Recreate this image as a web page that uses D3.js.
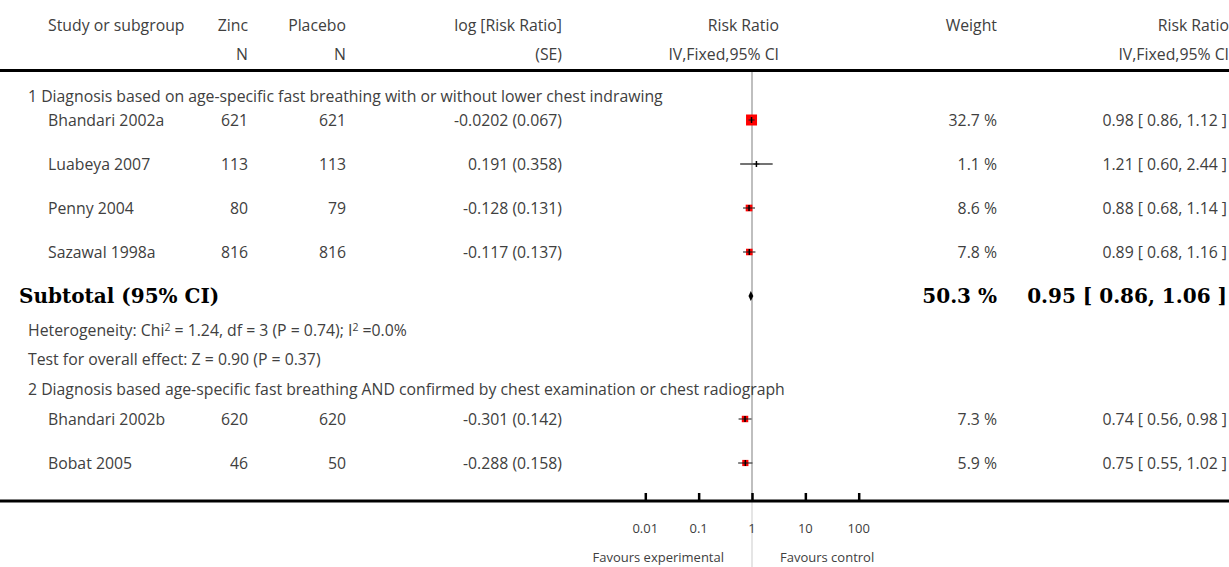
<!DOCTYPE html>
<html>
<head>
<meta charset="utf-8">
<script src="https://cdn.jsdelivr.net/npm/d3@7"></script>
<style>
  body { margin: 0; background: #fff; }
  svg text { font-family: "Open Sans", Lato, sans-serif; fill: #404040; }
  svg text.bold { font-family: "DejaVu Serif", "Liberation Serif", serif; font-weight: bold; fill: #000; }
</style>
</head>
<body>
<svg id="canvas" width="1229" height="567"></svg>
<script>
// data
let studies   = ['Bhandari 2002a', 'Luabeya 2007', 'Penny 2004', 'Sazawal 1998a', 'Bhandari 2002b', 'Bobat 2005']
let zincN     = [621, 113, 80, 816, 620, 46]
let placeboN  = [621, 113, 79, 816, 620, 50]
let logRR     = ['-0.0202 (0.067)', '0.191 (0.358)', '-0.128 (0.131)', '-0.117 (0.137)', '-0.301 (0.142)', '-0.288 (0.158)']
let weights   = [32.7, 1.1, 8.6, 7.8, 7.3, 5.9]
let rr        = [0.98, 1.21, 0.88, 0.89, 0.74, 0.75]
let lower     = [0.86, 0.60, 0.68, 0.68, 0.56, 0.55]
let upper     = [1.12, 2.44, 1.14, 1.16, 0.98, 1.02]

let subtotal  = {rr: 0.95, lo: 0.86, hi: 1.06, weight: 50.3}
let groupNames = [
  '1 Diagnosis based on age-specific fast breathing with or without lower chest indrawing',
  '2 Diagnosis based age-specific fast breathing AND confirmed by chest examination or chest radiograph'
]
let tickValues = [0.01, 0.1, 1, 10, 100]
let tickLabels = ['0.01', '0.1', '1', '10', '100']

let canvas = d3.select('#canvas')

let x = d3.scaleLog().domain([0.01, 100]).range([645.3, 858.7])
let boxSize = d3.scaleLinear().domain([5.9, 32.7]).range([6.2, 11])

let fmt = (v) => v.toFixed(2)
let ciText = (a, b, c) => fmt(a) + ' [ ' + fmt(b) + ', ' + fmt(c) + ' ]'
let FS = 15.8

// row positions (centre of the marks)
let studyY = [120, 164, 208, 252, 419, 463]

// vertical line of no effect
canvas.append('line')
      .attr('x1', x(1)).attr('x2', x(1))
      .attr('y1', 70).attr('y2', 501)
      .attr('stroke', '#aaa').attr('stroke-width', 1.5)
canvas.append('line')
      .attr('x1', x(1)).attr('x2', x(1))
      .attr('y1', 501).attr('y2', 567)
      .attr('stroke', '#ddd').attr('stroke-width', 1.5)

// header
let header = [
  {t: 'Study or subgroup', x: 48, a: 'start', y: 31},
  {t: 'Zinc', x: 248, a: 'end', y: 31},
  {t: 'N', x: 248, a: 'end', y: 60},
  {t: 'Placebo', x: 346, a: 'end', y: 31},
  {t: 'N', x: 346, a: 'end', y: 60},
  {t: 'log [Risk Ratio]', x: 562, a: 'end', y: 31},
  {t: '(SE)', x: 562, a: 'end', y: 60},
  {t: 'Risk Ratio', x: 779, a: 'end', y: 31},
  {t: 'IV,Fixed,95% CI', x: 779, a: 'end', y: 60},
  {t: 'Weight', x: 997, a: 'end', y: 31},
  {t: 'Risk Ratio', x: 1229, a: 'end', y: 31},
  {t: 'IV,Fixed,95% CI', x: 1229, a: 'end', y: 60}
]
canvas.selectAll('text.head')
      .data(header)
      .enter()
      .append('text')
      .attr('class', 'head')
      .attr('x', (d) => d.x)
      .attr('y', (d) => d.y)
      .attr('text-anchor', (d) => d.a)
      .attr('font-size', FS)
      .text((d) => d.t)

canvas.append('rect').attr('x', 0).attr('y', 69).attr('width', 1229).attr('height', 3).attr('fill', '#000')

// subgroup headings
canvas.selectAll('text.group')
      .data(groupNames)
      .enter()
      .append('text')
      .attr('class', 'group')
      .attr('x', 28)
      .attr('y', (d, i) => i === 0 ? 102 : 395)
      .attr('font-size', FS)
      .text((d) => d)

// study rows
let rows = canvas.selectAll('g.study')
      .data(studies)
      .enter()
      .append('g')
      .attr('class', 'study')
      .attr('transform', (d, i) => 'translate(0,' + studyY[i] + ')')

let cells = [
  {f: (i) => studies[i], x: 48, a: 'start'},
  {f: (i) => zincN[i], x: 248, a: 'end'},
  {f: (i) => placeboN[i], x: 346, a: 'end'},
  {f: (i) => logRR[i], x: 562, a: 'end'},
  {f: (i) => weights[i].toFixed(1) + ' %', x: 997, a: 'end'},
  {f: (i) => ciText(rr[i], lower[i], upper[i]), x: 1227, a: 'end'}
]
cells.forEach((c) => {
  rows.append('text')
      .attr('x', c.x)
      .attr('y', 6)
      .attr('text-anchor', c.a)
      .attr('font-size', FS)
      .text((d, i) => c.f(i))
})

rows.append('line')
    .attr('x1', (d, i) => x(lower[i]))
    .attr('x2', (d, i) => x(upper[i]))
    .attr('stroke', '#444').attr('stroke-width', 1.3)
rows.filter((d, i) => weights[i] > 2)
    .append('rect')
    .attr('x', (d) => { let i = studies.indexOf(d); return x(rr[i]) - boxSize(weights[i]) / 2 })
    .attr('y', (d) => -boxSize(weights[studies.indexOf(d)]) / 2)
    .attr('width', (d) => boxSize(weights[studies.indexOf(d)]))
    .attr('height', (d) => boxSize(weights[studies.indexOf(d)]))
    .attr('fill', '#f00')
rows.append('line')
    .attr('x1', (d, i) => x(rr[i]) - 3)
    .attr('x2', (d, i) => x(rr[i]) + 3)
    .attr('stroke', '#222').attr('stroke-width', 1.2)
rows.append('line')
    .attr('x1', (d, i) => x(rr[i]))
    .attr('x2', (d, i) => x(rr[i]))
    .attr('y1', -3).attr('y2', 3)
    .attr('stroke', '#000').attr('stroke-width', 1.5)

// subtotal
let subY = 296
let subCells = [
  {t: 'Subtotal (95% CI)', x: 19, a: 'start'},
  {t: subtotal.weight.toFixed(1) + ' %', x: 997, a: 'end'},
  {t: ciText(subtotal.rr, subtotal.lo, subtotal.hi), x: 1227, a: 'end'}
]
canvas.selectAll('text.bold')
      .data(subCells)
      .enter()
      .append('text')
      .attr('class', 'bold')
      .attr('x', (d) => d.x)
      .attr('y', subY + 7)
      .attr('text-anchor', (d) => d.a)
      .attr('font-size', 20)
      .text((d) => d.t)
canvas.append('path')
      .attr('d', 'M' + x(subtotal.lo) + ',' + subY +
                 'L' + x(subtotal.rr) + ',' + (subY - 5) +
                 'L' + x(subtotal.hi) + ',' + subY +
                 'L' + x(subtotal.rr) + ',' + (subY + 5) + 'Z')
      .attr('fill', '#000')

// heterogeneity lines
let het = canvas.append('text').attr('x', 28).attr('y', 336).attr('font-size', FS)
het.append('tspan').text('Heterogeneity: Chi')
het.append('tspan').attr('font-size', 10.5).attr('dy', -5).text('2')
het.append('tspan').attr('dy', 5).text(' = 1.24, df = 3 (P = 0.74); I')
het.append('tspan').attr('font-size', 10.5).attr('dy', -5).text('2')
het.append('tspan').attr('dy', 5).text(' =0.0%')
canvas.append('text').attr('x', 28).attr('y', 365).attr('font-size', FS)
      .text('Test for overall effect: Z = 0.90 (P = 0.37)')

// axis
canvas.append('rect').attr('x', 0).attr('y', 499.5).attr('width', 1229).attr('height', 3).attr('fill', '#000')
let axis = d3.axisTop(x).tickValues(tickValues).tickSize(7).tickFormat('')
let axisG = canvas.append('g').attr('transform', 'translate(0,500)').call(axis)
axisG.select('.domain').remove()
axisG.selectAll('.tick line').attr('stroke', '#000').attr('stroke-width', 2.5)

canvas.selectAll('text.tick')
      .data(tickValues)
      .enter()
      .append('text')
      .attr('class', 'tick')
      .attr('x', (d) => x(d))
      .attr('y', 533)
      .attr('text-anchor', 'middle')
      .attr('font-size', 13)
      .text((d, i) => tickLabels[i])

canvas.append('text').attr('x', 724).attr('y', 562).attr('text-anchor', 'end')
      .attr('font-size', 13).text('Favours experimental')
canvas.append('text').attr('x', 780).attr('y', 562)
      .attr('font-size', 13).text('Favours control')
</script>
</body>
</html>
